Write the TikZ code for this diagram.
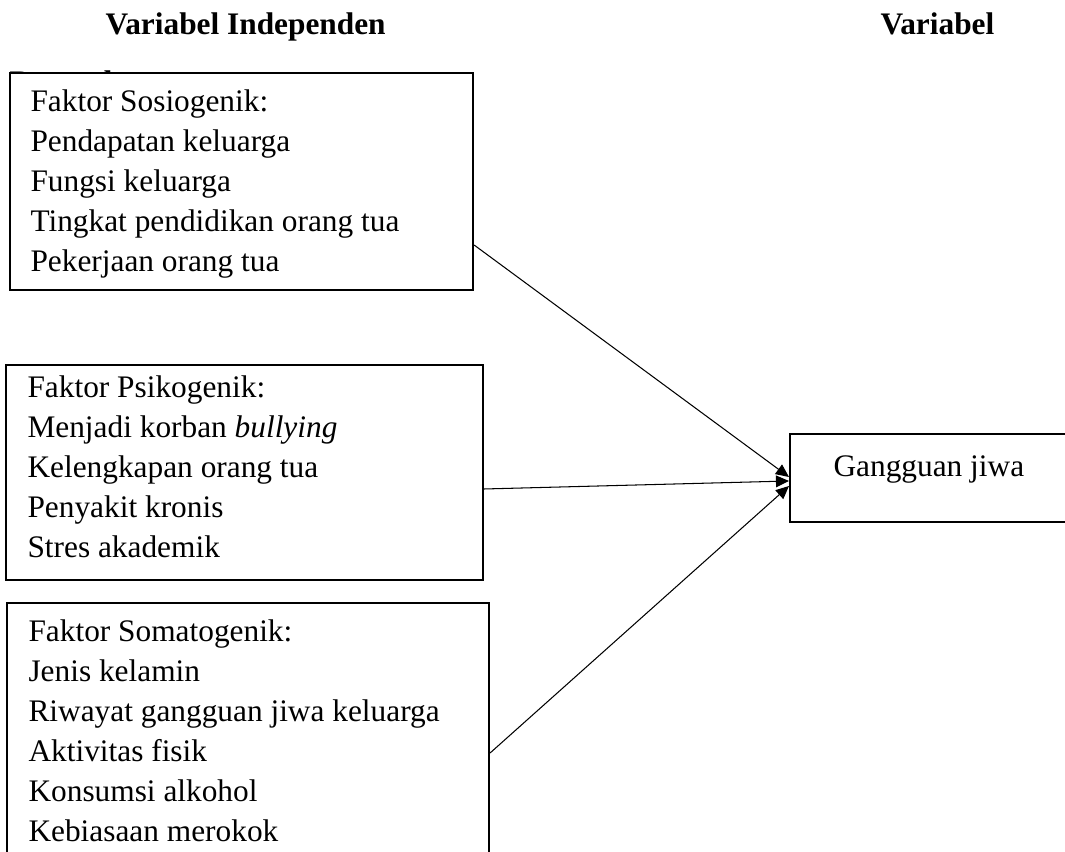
\documentclass[tikz,border=0pt]{standalone}
\usepackage{fontspec}
\setmainfont{Liberation Serif}
\usetikzlibrary{arrows.meta}

\newcommand{\px}{0.3828pt}

\tikzset{
	faktor/.style={draw, line width=0.8pt, fill=white, anchor=north west, inner sep=0pt},
	baris/.style={anchor=base west, inner sep=0pt, font=\fontsize{12}{14}\selectfont},
	judul/.style={baris, font=\fontsize{12}{14}\selectfont\bfseries},
	panah/.style={-{Triangle[length=5pt,width=4.5pt]}, line width=0.4pt}
}

\begin{document}
\begin{tikzpicture}[x=0.3828pt, y=-0.3828pt]
			\clip (0,0) rectangle (1065,852);
			\node[judul] (indep) at (105,35) {Variabel Independen};
			\node[judul] (dep) at (880,35) {Variabel};
			% sisa judul, tertutup kotak
			\node[judul] (dep2) at (9,93) {Dependen};
			% kotak
			\node[faktor, minimum width=463*\px, minimum height=217*\px] (sosio) at (9,72) {};
			\node[faktor, minimum width=477*\px, minimum height=215*\px] (psiko) at (5,364) {};
			\node[faktor, minimum width=482*\px, minimum height=300*\px] (somato) at (6,602) {};
			\node[faktor, minimum width=300*\px, minimum height=88*\px] (hasil) at (789,433) {};
			\foreach \t [count=\i] in {Faktor Sosiogenik:, Pendapatan keluarga, Fungsi keluarga, Tingkat pendidikan orang tua, Pekerjaan orang tua}
			{
				\node[baris] (sosio\i) at (30, 72+40*\i) {\t};
			}
			\foreach \t [count=\i] in {Faktor Psikogenik:, {Menjadi korban \textit{bullying}}, Kelengkapan orang tua, Penyakit kronis, Stres akademik}
			{
				\node[baris] (psiko\i) at (27, 358+40*\i) {\t};
			}
			\foreach \t [count=\i] in {Faktor Somatogenik:, Jenis kelamin, Riwayat gangguan jiwa keluarga, Aktivitas fisik, Konsumsi alkohol, Kebiasaan merokok}
			{
				\node[baris] (somato\i) at (28, 602+40*\i) {\t};
			}
			\node[baris] (gangguan) at (833,477) {Gangguan jiwa};
			% panah
			\coordinate (s1) at (sosio.east |- 0,245);
			\coordinate (p1) at (psiko.east |- 0,489);
			\coordinate (m1) at (somato.east |- 0,753);
			\coordinate (h1) at (hasil.west |- 0,477);
			\coordinate (h2) at (hasil.west |- 0,481);
			\coordinate (h3) at (hasil.west |- 0,486);
			\draw[panah]
				(s1) -- (h1);
			\draw[panah]
				(p1) -- (h2);
			\draw[panah]
				(m1) -- (h3);
		\end{tikzpicture}
\end{document}
